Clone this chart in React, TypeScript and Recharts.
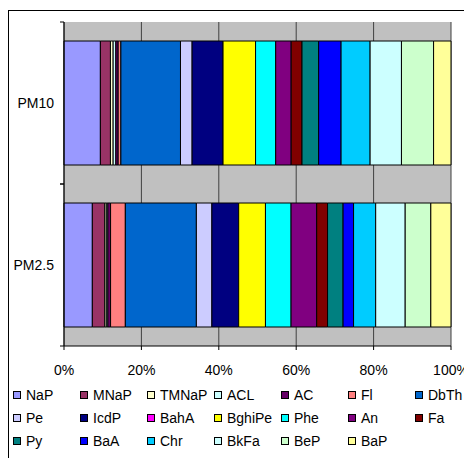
import React from "react";
import { BarChart, Bar, XAxis, YAxis, CartesianGrid } from "recharts";

const categories = ["PM10", "PM2.5"];

const compounds = [
  "NaP", "MNaP", "TMNaP", "ACL", "AC", "Fl", "DbTh",
  "Pe", "IcdP", "BahA", "BghiPe", "Phe", "An", "Fa",
  "Py", "BaA", "Chr", "BkFa", "BeP", "BaP",
];

const colors = [
  "#9999FF", "#993366", "#FFFFCC", "#CCFFFF", "#660066", "#FF8080", "#0066CC",
  "#CCCCFF", "#000080", "#FF00FF", "#FFFF00", "#00FFFF", "#800080", "#800000",
  "#008080", "#0000FF", "#00CCFF", "#CCFFFF", "#CCFFCC", "#FFFF99",
];

// share of each compound (%), same order as compounds
const pm10 = [9.4, 2.6, 0.7, 0.7, 0.6, 0.7, 15.4, 3.0, 8.0, 0, 8.4, 5.2, 4.0, 2.8, 4.3, 5.8, 7.5, 8.1, 8.3, 4.5];
const pm25 = [7.3, 3.2, 0.4, 0.4, 0.7, 3.8, 18.3, 4.0, 6.9, 0, 6.9, 6.6, 6.6, 2.8, 4.0, 2.7, 5.7, 7.6, 6.6, 5.2];

const xTicks = [0, 0.2, 0.4, 0.6, 0.8, 1];

const rows = [pm10, pm25];
const data = categories.map((name, r) => {
  const entry: Record<string, string | number> = { name };
  compounds.forEach((c, i) => {
    entry[c] = rows[r][i];
  });
  return entry;
});

const FONT = "'Liberation Sans', Arial, sans-serif";

// category label plus the small ticks at the band edges
const CategoryTick = (props: any) => {
  const { x, y, payload } = props;
  const half = payload.offset ?? 0;
  return (
    <g>
      <line x1={x + 6} x2={x + 10} y1={y - half} y2={y - half} stroke="#000" />
      <line x1={x + 6} x2={x + 10} y1={y + half} y2={y + half} stroke="#000" />
      <text x={x} y={y} dy="0.35em" textAnchor="end" fontSize={14} fontFamily={FONT} fill="#000">
        {payload.value}
      </text>
    </g>
  );
};

export default function App() {
  return (
    <div style={{ position: "absolute", left: 0, top: 0, width: 464, height: 458, background: "#fff", overflow: "hidden" }}>
      <div
        style={{
          position: "absolute",
          left: 8,
          top: 10,
          width: 480,
          height: 470,
          border: "1px solid #000",
        }}
      />
      <BarChart
        width={464}
        height={458}
        data={data}
        layout="vertical"
        stackOffset="expand"
        barCategoryGap={19}
        margin={{ top: 22, right: 13, bottom: 82, left: 8 }}
        style={{ position: "absolute", left: 0, top: 0 }}
      >
        <CartesianGrid horizontal={false} fill="#C0C0C0" fillOpacity={1} stroke="#404040" strokeOpacity={1} />
        <XAxis
          type="number"
          domain={[0, 1]}
          ticks={xTicks}
          tickFormatter={(v: number) => `${Math.round(v * 100)}%`}
          height={30}
          tickSize={4}
          tickMargin={15}
          axisLine={{ stroke: "#000" }}
          tickLine={{ stroke: "#000" }}
          tick={{ fill: "#000", fontSize: 14, fontFamily: FONT }}
          interval={0}
        />
        <YAxis
          type="category"
          dataKey="name"
          width={56}
          tickSize={4}
          tickMargin={6}
          tickLine={false}
          axisLine={{ stroke: "#000" }}
          tick={<CategoryTick />}
        />
        {compounds.map((c, i) => (
          <Bar key={c} dataKey={c} stackId="a" fill={colors[i]} stroke="#000" strokeWidth={1} isAnimationActive={false} />
        ))}
      </BarChart>
      <div
        style={{
          position: "absolute",
          left: 13,
          top: 383,
          display: "grid",
          gridTemplateColumns: "repeat(7, 67px)",
          gridAutoRows: "23px",
          fontFamily: FONT,
          fontSize: 14,
          color: "#000",
        }}
      >
        {compounds.map((c, i) => (
          <div key={c} style={{ display: "flex", alignItems: "center", whiteSpace: "nowrap" }}>
            <span
              style={{
                display: "inline-block",
                width: 6,
                height: 6,
                border: "1px solid #000",
                background: colors[i],
                marginRight: 5,
              }}
            />
            {c}
          </div>
        ))}
      </div>
    </div>
  );
}
